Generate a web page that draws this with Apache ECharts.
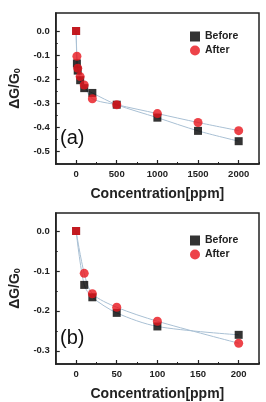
<!DOCTYPE html>
<html>
<head>
<meta charset="utf-8">
<script src="https://cdn.jsdelivr.net/npm/echarts@6/dist/echarts.min.js"></script>
<style>
  html, body { margin: 0; padding: 0; background: #fff; }
  #chart { width: 266px; height: 402px; }
</style>
</head>
<body>
<div id="chart"></div>
<script>
// panel (a)
var concA = [0, 10, 20, 50, 100, 200, 500, 1000, 1500, 2000];
var beforeA = [0, -0.135, -0.165, -0.205, -0.238, -0.258, -0.307, -0.361, -0.416, -0.459];
var afterA = [0, -0.105, -0.155, -0.19, -0.225, -0.282, -0.307, -0.344, -0.381, -0.415];
var xTicksA = [0, 500, 1000, 1500, 2000];
var yTicksA = [0, -0.1, -0.2, -0.3, -0.4, -0.5];

// panel (b)
var concB = [0, 10, 20, 50, 100, 200];
var beforeB = [0, -0.135, -0.166, -0.205, -0.239, -0.26];
var afterB = [0, -0.106, -0.157, -0.191, -0.226, -0.281];
var xTicksB = [0, 50, 100, 150, 200];
var yTicksB = [0, -0.1, -0.2, -0.3];

const FONT = 'Liberation Sans';
const AXIS_COLOR = '#222';
const FIT_COLOR = '#a9c0d4';
const RED = '#e8141b';

var pairs = (xs, ys) => xs.map((x, i) => [x, ys[i]]);
var minors = (ticks, step) => ticks.map(t => t + step);

var xAxis = (grid, min, max, ticks, step) => [{
    type: 'value', gridIndex: grid, min, max,
    axisLine: { onZero: false, lineStyle: { color: AXIS_COLOR, width: 1.5 } },
    axisTick: { inside: true, length: 4, customValues: ticks, lineStyle: { color: AXIS_COLOR, width: 1.2 } },
    axisLabel: { customValues: ticks, margin: 5, fontFamily: FONT, fontWeight: 'bold', fontSize: 9.5, color: '#222',
        formatter: v => String(v) },
    splitLine: { show: false },
    name: 'Concentration[ppm]', nameLocation: 'middle', nameGap: 23,
    nameTextStyle: { fontFamily: FONT, fontWeight: 'bold', fontSize: 14, color: '#222' }
}, {
    type: 'value', gridIndex: grid, min, max, position: 'bottom',
    axisLine: { show: false, onZero: false },
    axisTick: { inside: true, length: 2, customValues: minors(ticks, step), lineStyle: { color: AXIS_COLOR, width: 1 } },
    axisLabel: { show: false },
    splitLine: { show: false }
}];

var yAxis = (grid, min, max, ticks, step) => [{
    type: 'value', gridIndex: grid, min, max,
    axisLine: { onZero: false, lineStyle: { color: AXIS_COLOR, width: 1.5 } },
    axisTick: { inside: true, length: 4, customValues: ticks, lineStyle: { color: AXIS_COLOR, width: 1.2 } },
    axisLabel: { customValues: ticks, margin: 6, fontFamily: FONT, fontWeight: 'bold', fontSize: 9.5, color: '#222',
        formatter: v => v.toFixed(1) },
    splitLine: { show: false },
    name: '{t|ΔG/G}{s|0}', nameLocation: 'middle', nameGap: 32, nameRotate: 90,
    nameTextStyle: { rich: {
        t: { fontFamily: FONT, fontWeight: 'bold', fontSize: 14, color: '#222' },
        s: { fontFamily: FONT, fontWeight: 'bold', fontSize: 9, color: '#222', verticalAlign: 'bottom', padding: [6, 0, 0, 0] }
    } }
}, {
    type: 'value', gridIndex: grid, min, max, position: 'left',
    axisLine: { show: false, onZero: false },
    axisTick: { inside: true, length: 2, customValues: minors(ticks, step), lineStyle: { color: AXIS_COLOR, width: 1 } },
    axisLabel: { show: false },
    splitLine: { show: false }
}];

var fit = (xi, yi, xs, ys) => ({
    type: 'line', xAxisIndex: xi, yAxisIndex: yi, data: pairs(xs, ys),
    smooth: 0.3, symbol: 'none', silent: true, z: 1,
    lineStyle: { color: FIT_COLOR, width: 1 }
});

var dots = (xi, yi, name, xs, ys, symbol, color, size) => ({
    type: 'scatter', name, xAxisIndex: xi, yAxisIndex: yi,
    // the shared point at zero is drawn as a red square
    data: pairs(xs, ys).map((p, i) => (i === 0 && color === RED) ? { value: p, symbol: 'rect', symbolSize: 8 } : p),
    symbol, symbolSize: size, itemStyle: { color }, z: 3
});

var legend = (top) => ({
    left: 185, top, orient: 'vertical', itemGap: 3, itemWidth: 10, itemHeight: 10,
    data: [{ name: 'Before', icon: 'rect' }, { name: 'After', icon: 'circle' }],
    textStyle: { fontFamily: FONT, fontWeight: 'bold', fontSize: 10.5, color: '#222' }
});

var option = {
    animation: false,
    grid: [
        { left: 54, top: 13, width: 205, height: 151, show: true, borderColor: AXIS_COLOR, borderWidth: 1.5 },
        { left: 54, top: 213, width: 205, height: 151, show: true, borderColor: AXIS_COLOR, borderWidth: 1.5 }
    ],
    xAxis: [].concat(xAxis(0, -250, 2250, xTicksA, 250), xAxis(1, -25, 225, xTicksB, 25)),
    yAxis: [].concat(yAxis(0, -0.554, 0.075, yTicksA, -0.05), yAxis(1, -0.333, 0.045, yTicksB, -0.05)),
    legend: [legend(26), legend(230)],
    graphic: [
        { type: 'text', left: 60, top: 128, style: { text: '(a)', fontFamily: FONT, fontSize: 20, fill: '#111' } },
        { type: 'text', left: 60, top: 328, style: { text: '(b)', fontFamily: FONT, fontSize: 20, fill: '#111' } }
    ],
    series: [
        fit(0, 0, concA, beforeA),
        fit(0, 0, concA, afterA),
        dots(0, 0, 'Before', concA, beforeA, 'rect', '#000', 8),
        dots(0, 0, 'After', concA, afterA, 'circle', RED, 9),
        fit(2, 2, concB, beforeB),
        fit(2, 2, concB, afterB),
        dots(2, 2, 'Before', concB, beforeB, 'rect', '#000', 8),
        dots(2, 2, 'After', concB, afterB, 'circle', RED, 9)
    ]
};

var chart = echarts.init(document.getElementById('chart'));
chart.setOption(option);
</script>
</body>
</html>
